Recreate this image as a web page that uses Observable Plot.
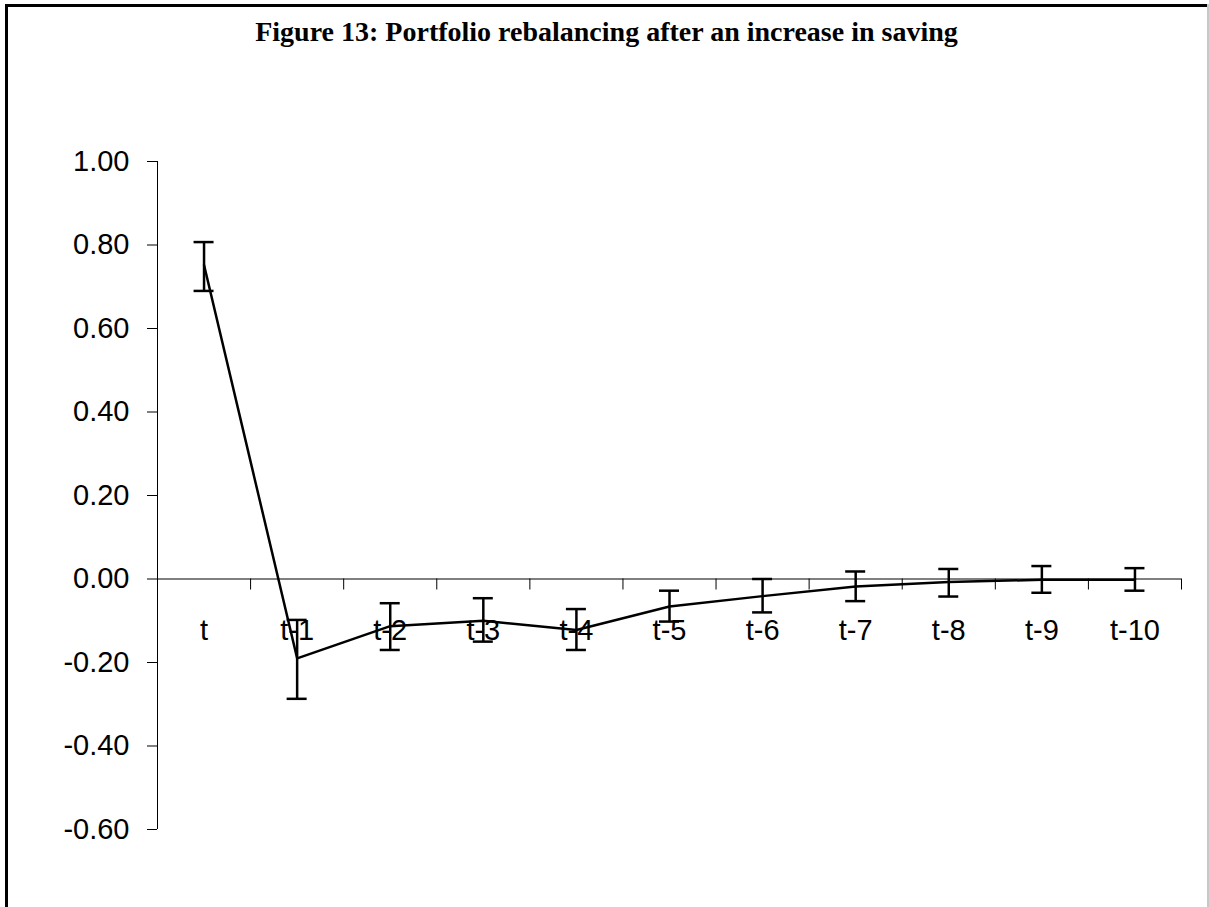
<!DOCTYPE html>
<html>
<head>
<meta charset="utf-8">
<script src="https://cdn.jsdelivr.net/npm/d3@7"></script>
<script src="https://cdn.jsdelivr.net/npm/@observablehq/plot@0.6"></script>
<style>
  html, body { margin: 0; padding: 0; background: #fff; }
  #page { position: relative; width: 1209px; height: 907px; overflow: hidden; background: #fff; }
  #frameTop { position: absolute; left: 5px; top: 4px; width: 1204px; height: 3px; background: #000; }
  #frameLeft { position: absolute; left: 5px; top: 4px; width: 3px; height: 903px; background: #000; }
  #frameRight { position: absolute; left: 1207px; top: 4px; width: 2px; height: 903px; background: #c8c8c8; }
  #title { position: absolute; left: 5px; width: 1203px; top: 16px; text-align: center;
           font-family: "Liberation Serif", "Times New Roman", serif; font-weight: bold; font-size: 28px; color: #000; }
  #chart { position: absolute; left: 0; top: 0; }
</style>
</head>
<body>
<div id="page">
  <div id="frameTop"></div>
  <div id="frameLeft"></div>
  <div id="frameRight"></div>
  <div id="title">Figure 13: Portfolio rebalancing after an increase in saving</div>
  <div id="chart"></div>
</div>
<script>
// Categories (lags) and estimated coefficients with confidence bounds
const categories = ["t", "t-1", "t-2", "t-3", "t-4", "t-5", "t-6", "t-7", "t-8", "t-9", "t-10"];
const values = [0.752, -0.19, -0.113, -0.100, -0.122, -0.066, -0.041, -0.018, -0.007, -0.002, -0.002];
const upper  = [0.807, -0.098, -0.058, -0.046, -0.072, -0.028, 0.000, 0.018, 0.024, 0.031, 0.026];
const lower  = [0.690, -0.287, -0.170, -0.150, -0.170, -0.102, -0.080, -0.053, -0.042, -0.033, -0.028];
const yTicks = [-0.6, -0.4, -0.2, 0, 0.2, 0.4, 0.6, 0.8, 1.0];

const data = categories.map((c, i) => ({ i, c, v: values[i], lo: lower[i], hi: upper[i] }));
const boundaries = d3.range(0, categories.length + 1).map(k => k - 0.5);

const plot = Plot.plot({
  width: 1209,
  height: 907,
  marginTop: 161,
  marginBottom: 78,
  marginLeft: 157,
  marginRight: 28,
  style: { background: "transparent", fontFamily: "'Liberation Sans', Arial, sans-serif", color: "#000" },
  x: { type: "linear", domain: [-0.5, categories.length - 0.5], axis: null },
  y: { domain: [-0.6, 1.0], axis: null },
  marks: [
    // y axis line
    Plot.ruleX([-0.5], { stroke: "#000", strokeWidth: 1 }),
    Plot.axisY(yTicks, {
      tickSize: 10, tickPadding: 18, fontSize: 29,
      tickFormat: d => d.toFixed(2), stroke: "#000"
    }),
    // x axis at zero
    Plot.ruleY([0], { stroke: "#000", strokeWidth: 1 }),
    Plot.ruleX(boundaries, { x: d => d, y1: 0, y2: 0, insetBottom: -11, stroke: "#000", strokeWidth: 1 }),
    Plot.text(data, { x: "i", y: 0, text: "c", dy: 52, fontSize: 29, fill: "#000" }),
    // series line
    Plot.line(data, { x: "i", y: "v", stroke: "#000", strokeWidth: 2.5 }),
    // error bars
    Plot.ruleX(data, { x: "i", y1: "lo", y2: "hi", stroke: "#000", strokeWidth: 2.5 }),
    Plot.ruleY(data, { y: "hi", x1: "i", x2: "i", insetLeft: -10, insetRight: -10, stroke: "#000", strokeWidth: 2.5 }),
    Plot.ruleY(data, { y: "lo", x1: "i", x2: "i", insetLeft: -10, insetRight: -10, stroke: "#000", strokeWidth: 2.5 })
  ]
});
document.getElementById("chart").appendChild(plot);
</script>
</body>
</html>
